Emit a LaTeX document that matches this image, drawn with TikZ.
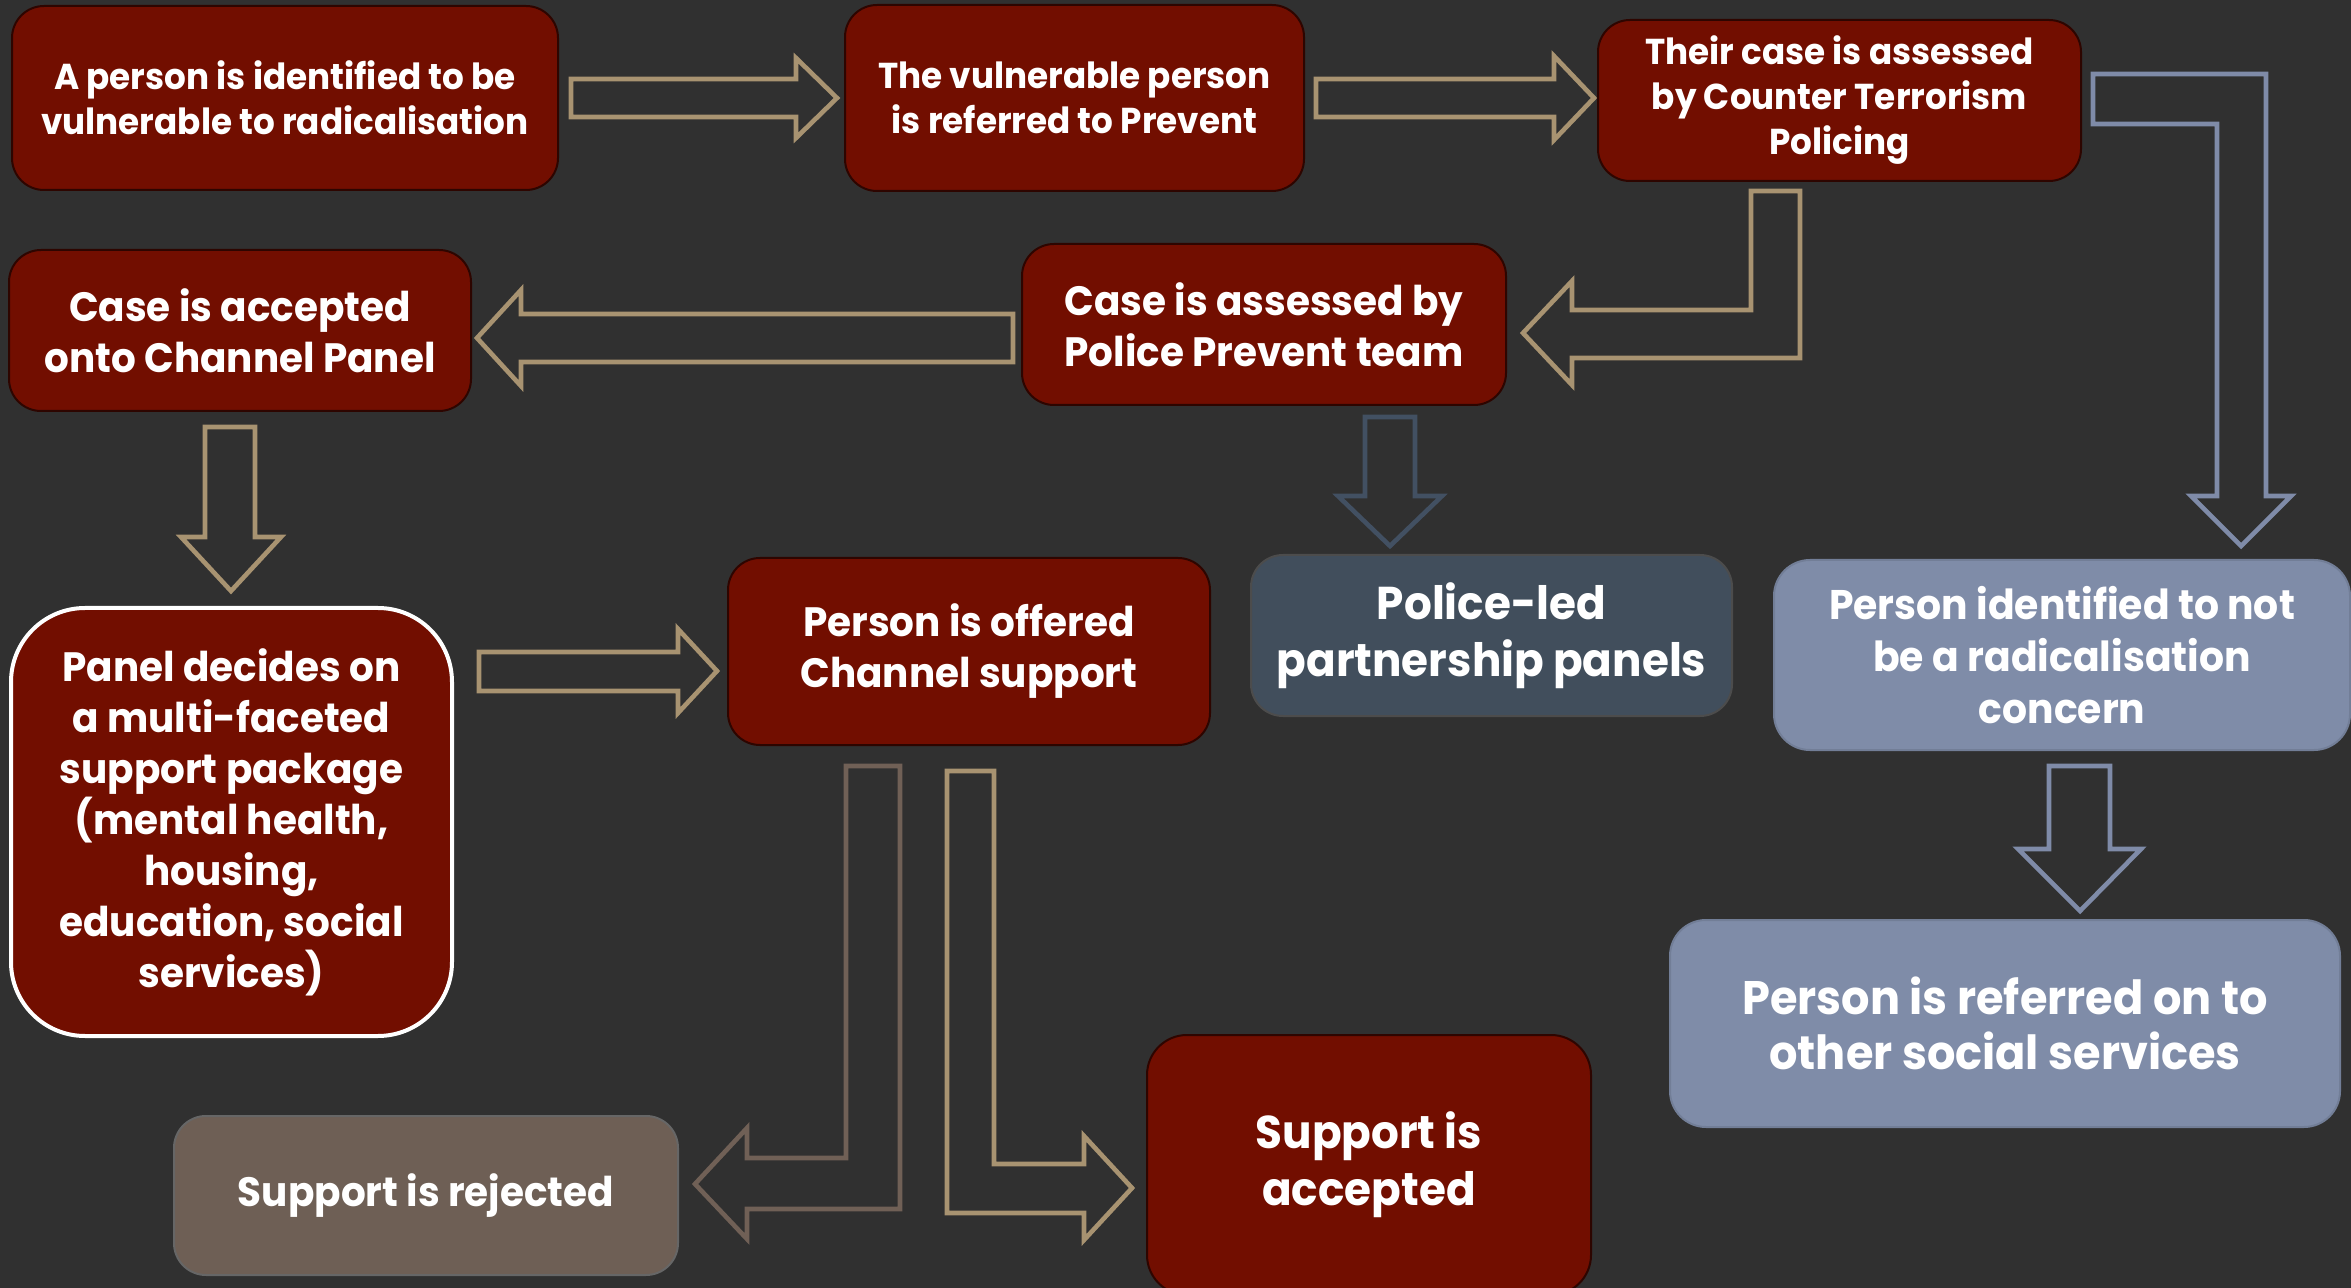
\documentclass[tikz,border=0pt]{standalone}
\usepackage{fontspec}
\setmainfont{Poppins}[FakeStretch=0.95]
\usetikzlibrary{calc}
\definecolor{bgc}{RGB}{48,48,48}
\definecolor{boxred}{RGB}{114,14,0}
\definecolor{redline}{RGB}{45,5,0}
\definecolor{goldc}{RGB}{168,147,113}
\definecolor{bluec}{RGB}{127,139,168}
\definecolor{slatec}{RGB}{66,80,98}
\definecolor{brownc}{RGB}{112,96,86}
\definecolor{slatebox}{RGB}{65,78,92}
\definecolor{bluebox}{RGB}{127,140,168}
\definecolor{brownbox}{RGB}{110,95,85}
\begin{document}
\begin{tikzpicture}[x=0.5pt,y=-0.5pt,
  redbox/.style={rectangle, rounded corners=16pt, draw=redline, line width=1pt, fill=boxred, text=white, align=center, inner sep=0pt},
  slbox/.style={redbox, fill=slatebox, draw=black!70},
  blbox/.style={redbox, fill=bluebox, draw=bluebox!90!black, rounded corners=18pt},
  brbox/.style={redbox, fill=brownbox, draw=black!60},
  goldarr/.style={draw=goldc, line width=2.3pt},
  bluearr/.style={draw=bluec, line width=2.3pt},
  slatearr/.style={draw=slatec, line width=2.3pt},
  brownarr/.style={draw=brownc, line width=2.3pt},
  fA/.style={font=\fontsize{18}{22.5}\selectfont\bfseries},
  fB/.style={font=\fontsize{20.5}{25.5}\selectfont\bfseries},
  fC/.style={font=\fontsize{23}{28.5}\selectfont\bfseries}
]
\fill[bgc] (0,0) rectangle (2351,1288);
\useasboundingbox (0,0) rectangle (2351,1288);

% nodes
\node[redbox, fA, minimum width=273pt, minimum height=92pt] (A) at (285,98)
  {A person is identified to be\\vulnerable to radicalisation};
\node[redbox, fA, minimum width=229.5pt, minimum height=93pt] (B) at (1074.5,98)
  {The vulnerable person\\is referred to Prevent};
\node[redbox, fA, minimum width=241.5pt, minimum height=80.5pt] (C) at (1839.5,100.5)
  {Their case is assessed\\by Counter Terrorism\\Policing};
\node[redbox, fB, minimum width=242pt, minimum height=80.5pt] (D) at (1264,324.5)
  {Case is assessed by\\Police Prevent team};
\node[redbox, fB, minimum width=231pt, minimum height=80.5pt] (E) at (240,330.5)
  {Case is accepted\\onto Channel Panel};
\node[redbox, fB, draw=white, line width=2pt, rounded corners=37pt, minimum width=220.5pt, minimum height=214pt] (F) at (231.5,822)
  {Panel decides on\\a multi-faceted\\support package\\(mental health,\\housing,\\education, social\\services)};
\node[redbox, fB, minimum width=241pt, minimum height=93.5pt] (G) at (969,651.5)
  {Person is offered\\Channel support};
\node[slbox, fC, minimum width=240.5pt, minimum height=80.5pt] (H) at (1491.5,635.5)
  {Police-led\\partnership panels};
\node[blbox, font=\fontsize{20.7}{26}\selectfont\bfseries, minimum width=288pt, minimum height=95pt] (I) at (2062,655)
  {Person identified to not\\be a radicalisation\\concern};
\node[blbox, font=\fontsize{23.5}{27.5}\selectfont\bfseries, minimum width=335pt, minimum height=103.5pt] (J) at (2005,1023.5)
  {Person is referred on to\\other social services};
\node[brbox, fB, minimum width=252pt, minimum height=79.5pt] (K) at (426,1195.5)
  {Support is rejected};
\node[redbox, fC, rounded corners=20pt, minimum width=222pt, minimum height=130pt] (L) at (1369,1165)
  {Support is\\accepted};

% block arrows
\draw[goldarr] (A.east) +(12,-19) -- +(237,-19) -- +(237,-40) -- +(278,0) -- +(237,40) -- +(237,19) -- +(12,19) -- cycle;
\draw[goldarr] (B.east) +(11,-19) -- +(249,-19) -- +(249,-42) -- +(289,0) -- +(249,42) -- +(249,19) -- +(11,19) -- cycle;
\draw[goldarr] (C.south) +(-88.5,9) -- +(-39.5,9) -- +(-39.5,176) -- +(-267.5,176) -- +(-267.5,203) -- +(-316.5,151) -- +(-267.5,99) -- +(-267.5,128) -- +(-88.5,128) -- cycle;
\draw[goldarr] (D.west) +(-8,-10.5) -- +(-500,-10.5) -- +(-500,-34.5) -- +(-544,13.5) -- +(-500,61.5) -- +(-500,37.5) -- +(-8,37.5) -- cycle;
\draw[bluearr] (C.east) +(11,-26.5) -- +(184,-26.5) -- +(184,395.5) -- +(209,395.5) -- +(159,445.5) -- +(109,395.5) -- +(135,395.5) -- +(135,23.5) -- +(11,23.5) -- cycle;
\draw[slatearr] (D.south) +(101,11) -- +(151,11) -- +(151,90) -- +(178,90) -- +(126,140) -- +(74,90) -- +(101,90) -- cycle;
\draw[goldarr] (E.south) +(-35,15) -- +(15,15) -- +(15,125) -- +(41,125) -- +(-9,179) -- +(-59,125) -- +(-35,125) -- cycle;
\draw[goldarr] (F.east) +(25,-170) -- +(224,-170) -- +(224,-193) -- +(263,-151) -- +(224,-109) -- +(224,-131) -- +(25,-131) -- cycle;
\draw[brownarr] (G.south) +(-123,20) -- +(-69,20) -- +(-69,463) -- +(-222,463) -- +(-222,493) -- +(-274,438) -- +(-222,382) -- +(-222,412) -- +(-123,412) -- cycle;
\draw[goldarr] (G.south) +(-22,25) -- +(25,25) -- +(25,418) -- +(115,418) -- +(115,390) -- +(163,442) -- +(115,494) -- +(115,467) -- +(-22,467) -- cycle;
\draw[bluearr] (I.south) +(-13,15) -- +(48,15) -- +(48,98) -- +(79,98) -- +(18,160) -- +(-44,98) -- +(-13,98) -- cycle;
\end{tikzpicture}
\end{document}
